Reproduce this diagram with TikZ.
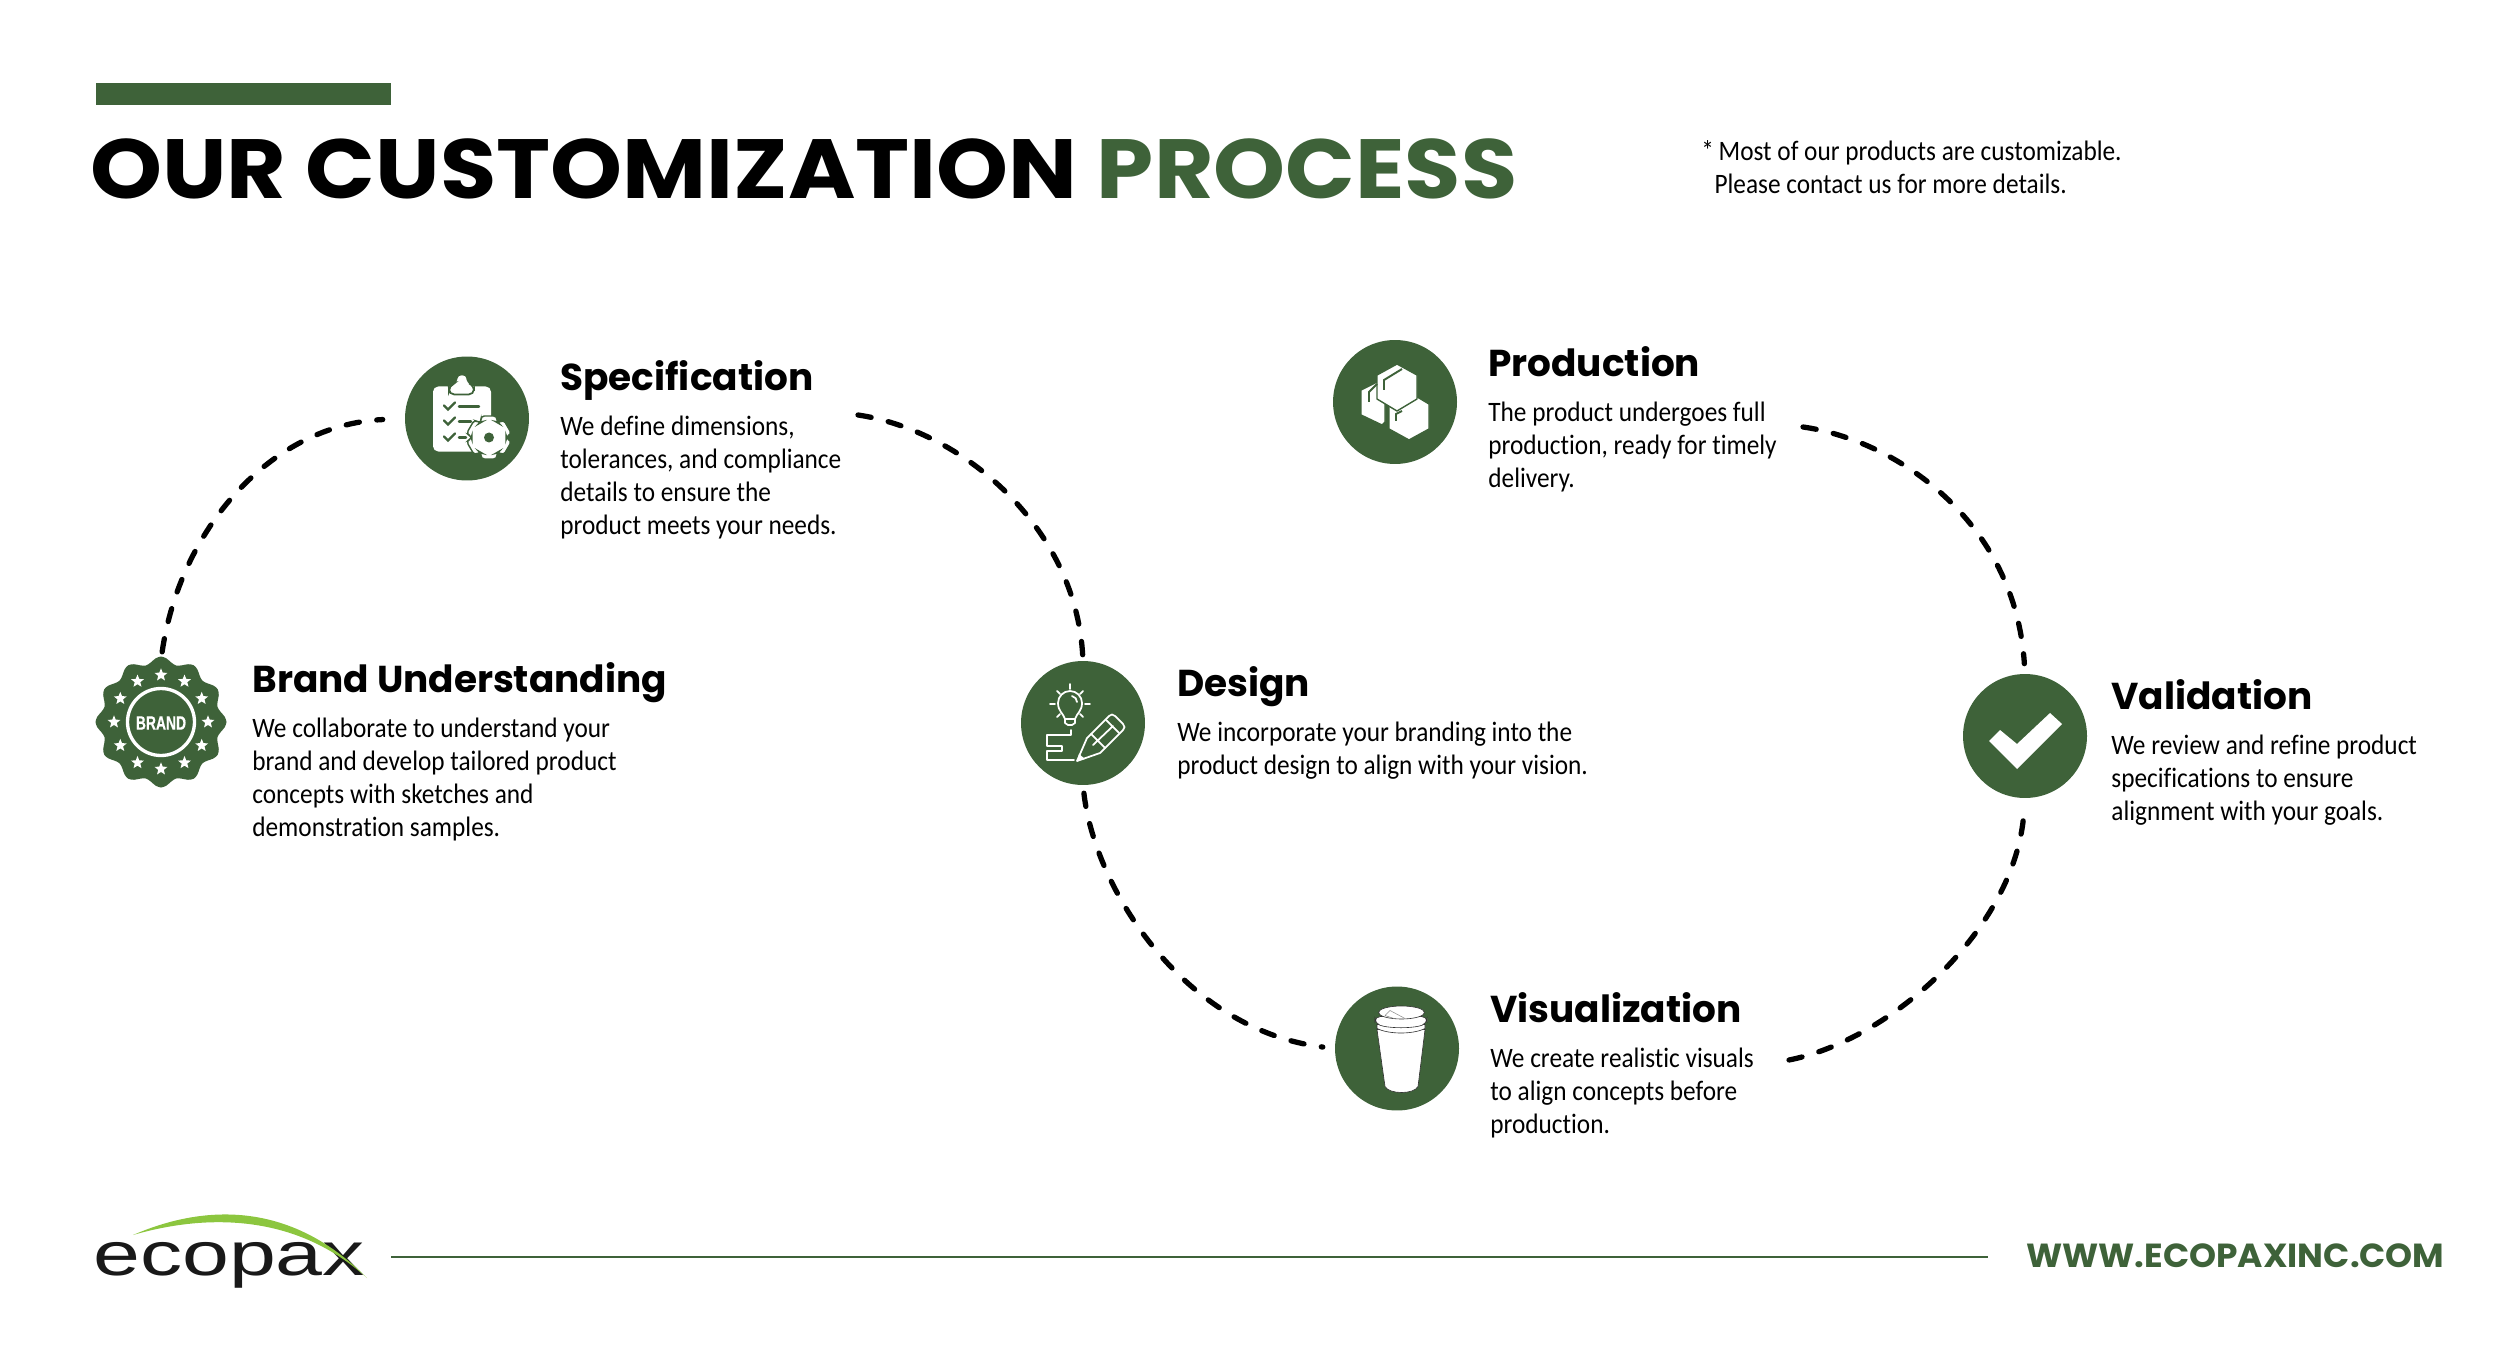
\documentclass[tikz,border=0pt]{standalone}
\usepackage{fontspec}
\usetikzlibrary{shapes.geometric}
\setmainfont[FakeStretch=0.9, Ligatures=NoCommon]{Carlito}
\newfontfamily\headfont{Poppins}
\newfontfamily\titlefont[FakeStretch=1.09]{Poppins}
\newfontfamily\webfont[FakeStretch=1.03]{Poppins}
\newfontfamily\brandfont[FakeStretch=0.72, FakeBold=0.5]{Liberation Sans}
\newfontfamily\logofont[FakeStretch=1.37]{Liberation Sans}
\definecolor{ecogreen}{HTML}{3E6239}
\definecolor{swoosh}{HTML}{8CC63F}
\tikzset{
	stepcircle/.style={circle, fill=ecogreen, minimum size=2.48cm, inner sep=0pt},
	stephead/.style={anchor=base west, inner sep=0pt, font=\headfont\bfseries\fontsize{21.3}{24}\selectfont},
	stepbody/.style={anchor=north west, inner sep=0pt, align=left, font=\fontsize{16}{18.7}\selectfont},
	dashline/.style={black, line width=3pt, line cap=round, dash pattern=on 7.6pt off 10pt},
	iconline/.style={white, line width=1pt, line cap=round, line join=round},
	cupline/.style={fill=white, draw=black!80, line width=0.35pt},
	brandstar/.style={star, star points=5, star point ratio=2.3, fill=white, minimum size=0.27cm, inner sep=0pt}
}
\begin{document}
\begin{tikzpicture}[x=0.02cm, y=-0.02cm]
	\useasboundingbox (0,0) rectangle (2500,1371);
	% header
	\fill[ecogreen] (96,83) rectangle (391,105);
	\node[anchor=base west, inner sep=0pt, font=\titlefont\bfseries\fontsize{47.8}{50}\selectfont] (title) at (90,199) {OUR CUSTOMIZATION \textcolor{ecogreen}{PROCESS}};
	\node[stepbody] (note) at (1701,140) {*\,Most of our products are customizable.\\\hspace*{7.5pt}Please contact us for more details.};
	% steps
	\node[stepcircle, fill=none] (brand) at (161,722) {};
	\node[stepcircle] (spec) at (467,418.5) {};
	\node[stepcircle] (design) at (1083,723) {};
	\node[stepcircle] (prod) at (1395,402) {};
	\node[stepcircle] (vis) at (1397,1048.5) {};
	\node[stepcircle] (valid) at (2025,736) {};
	\node[stephead] (brandhead) at (252,692) {Brand Understanding};
	\node[stepbody] (brandbody) at (252,718) {We collaborate to understand your\\brand and develop tailored product\\concepts with sketches and\\demonstration samples.};
	\node[stephead] (spechead) at (560,391) {Specification};
	\node[stepbody] (specbody) at (560,416) {We define dimensions,\\tolerances, and compliance\\details to ensure the\\product meets your needs.};
	\node[stephead] (designhead) at (1177,696.5) {Design};
	\node[stepbody] (designbody) at (1177,722) {We incorporate your branding into the\\product design to align with your vision.};
	\node[stephead] (prodhead) at (1488,377) {Production};
	\node[stepbody] (prodbody) at (1488,402) {The product undergoes full\\production, ready for timely\\delivery.};
	\node[stephead] (vishead) at (1490,1022.5) {Visualization};
	\node[stepbody] (visbody) at (1490,1048) {We create realistic visuals\\to align concepts before\\production.};
	\node[stephead] (validhead) at (2111,709.5) {Validation};
	\node[stepbody] (validbody) at (2111,735) {We review and refine product\\specifications to ensure\\alignment with your goals.};
	% connectors
	\coordinate (specout) at (858,415);
	\coordinate (prodout) at (1803,427);
	\coordinate (visout) at (1789,1060);
	\draw[dashline, shorten <=4.5pt, shorten >=12.5pt] (brand.north) .. controls (180,530) and (270,425) .. (spec.west);
	\draw[dashline, shorten >=3.4pt] (specout) .. controls (960,430) and (1075,525) .. (design.north);
	\draw[dashline, shorten <=4.5pt, shorten >=6.8pt] (design.south) .. controls (1095,890) and (1185,1030) .. (vis.west);
	\draw[dashline, shorten >=5.7pt] (prodout) .. controls (1895,440) and (2015,520) .. (valid.north);
	\draw[dashline, shorten >=8.5pt] (visout) .. controls (1890,1040) and (2015,930) .. (valid.south);
	% brand badge
	\begin{scope}[shift={(brand)}]
		\fill[ecogreen] plot[smooth cycle, domain=0:355, samples=72] (\x:{62+3.5*cos(12*\x)});
		\draw[white, line width=1.9pt] (0,0) circle (33.5);
	\end{scope}
	\foreach \a [count=\i] in {0,30,...,330}
		\node[brandstar] (star\i) at ([shift={(\a:47)}]brand) {};
	\node[inner sep=0pt, white, font=\brandfont\bfseries\fontsize{11}{12}\selectfont] (brandlabel) at (161,723) {BRAND};
	% clipboard
	\begin{scope}[shift={(spec)}]
		\fill[white, rounded corners=3] (-34,-32) rectangle (24,33);
		\filldraw[fill=white, draw=ecogreen, line width=1pt, rounded corners=3] (-18,-24) -- (-18,-33) -- (-10,-36) .. controls (-10,-45) and (0,-45) .. (0,-36) -- (7,-33) -- (7,-24) -- cycle;
		\foreach \y in {-12,3,19}
			\draw[ecogreen, line width=1.4pt, line cap=round] (-23,\y-1) -- (-19,\y+3) -- (-12,\y-4);
		\draw[ecogreen, line width=1.4pt, line cap=round] (-8,-12) -- (12,-12) (-8,3) -- (4,3) (-8,19) -- (-1,19);
		\begin{scope}[shift={(22,19)}]
			\filldraw[fill=white, draw=ecogreen, line width=0.8pt, rounded corners=2] (3:17) \foreach \a in {0,60,...,300} { -- ({\a+3}:17) -- ({\a+9}:23) -- ({\a+51}:23) -- ({\a+57}:17) } -- cycle;
			\fill[ecogreen] (0,0) circle (5);
		\end{scope}
	\end{scope}
	% bulb and pencil
	\begin{scope}[shift={(design)}, iconline]
		\draw (-18,-4) .. controls (-20,-10) and (-25,-12) .. (-25,-20) arc[start angle=180, end angle=360, radius=12] .. controls (-1,-12) and (-6,-10) .. (-8,-4) -- cycle;
		\draw (-18,-4) -- (-18,0) -- (-15,2) -- (-11,2) -- (-8,0) -- (-8,-4);
		\draw (-11,-27) .. controls (-8,-26) and (-6,-24) .. (-6,-21);
		\draw (-13,-39) -- (-13,-34) (-33,-19) -- (-28,-19) (2,-19) -- (7,-19) (-26,-32) -- (-23,-29) (0,-32) -- (-3,-29) (-26,-6) -- (-23,-9) (0,-6) -- (-3,-9);
		\draw (-12,7) -- (-12,12) -- (-36,12) -- (-36,23) -- (-21,23) -- (-21,28) -- (-36,28) -- (-36,37) -- (-9,37);
		\draw (-6,38) -- (4,15) -- (26,-7) .. controls (28,-9) and (30,-9) .. (32,-7) -- (40,1) .. controls (42,3) and (42,5) .. (40,7) -- (17,30) -- cycle;
		\draw (23,-3) -- (36,10) (8,11) -- (22,25) (10,22) -- (30,3);
		\fill[white] (-6,38) -- (-4,31) -- (2,36) -- cycle;
	\end{scope}
	% boxes
	\begin{scope}[shift={(prod)}]
		\filldraw[fill=white, draw=ecogreen, line width=0.8pt, line join=round] (-34,-12) -- (-10,-24) -- (-10,20) -- (-13,23) -- (-34,13) -- cycle;
		\filldraw[fill=white, draw=ecogreen, line width=0.8pt, line join=round] (14,-10) -- (34,2) -- (34,27) -- (14,38) -- (-6,27) -- (-6,2) -- cycle;
		\filldraw[fill=white, draw=ecogreen, line width=0.8pt, line join=round] (-18,-27) -- (2,-38) -- (22,-27) -- (22,-3) -- (2,9) -- (-18,-3) -- cycle;
		\draw[ecogreen, line width=1.1pt] (7,-33) -- (-11,-22) -- (-11,-12) (7,9) -- (1,12) -- (1,19) (-18,-18) -- (-26,-10) -- (-26,0);
	\end{scope}
	% cup
	\begin{scope}[shift={(vis)}]
		\filldraw[cupline] (-20,-19) -- (-12,38) .. controls (-8,46) and (17,46) .. (21,38) -- (28,-19) -- cycle;
		\filldraw[cupline] (-20,-24) -- (-20,-20) .. controls (-8,-14) and (16,-14) .. (28,-20) -- (28,-24) -- cycle;
		\filldraw[cupline, rounded corners=3] (-22,-32) -- (-22,-25) .. controls (-8,-20) and (16,-20) .. (30,-25) -- (30,-32) -- cycle;
		\filldraw[cupline] (4.5,-36) ellipse (23 and 6.5);
		\draw[black!45, line width=0.3pt] (-12,-33) -- (-7,-38) -- (8,-30) (-12,-33) -- (-3,-30);
	\end{scope}
	% check
	\fill[white, shift={(valid)}] (-36,5) -- (-25,-6) -- (-8,8) -- (25,-23) -- (37,-12) -- (-8,33) -- cycle;
	% footer
	\node[anchor=base west, inner sep=0pt, font=\logofont\fontsize{35}{36}\selectfont, black!90] (ecopax) at (93,1275) {ecopax};
	\fill[swoosh] (133,1235) .. controls (195,1208) and (285,1195) .. (367,1278) .. controls (290,1208) and (195,1217) .. (133,1235) -- cycle;
	\coordinate (ruleleft) at (391,1257);
	\coordinate (ruleright) at (1988,1257);
	\draw[ecogreen, line width=0.9pt] (ruleleft) -- (ruleright);
	\node[anchor=base west, inner sep=0pt, ecogreen, font=\webfont\bfseries\fontsize{19}{22}\selectfont] (website) at (2026,1267) {WWW.ECOPAXINC.COM};
\end{tikzpicture}
\end{document}
